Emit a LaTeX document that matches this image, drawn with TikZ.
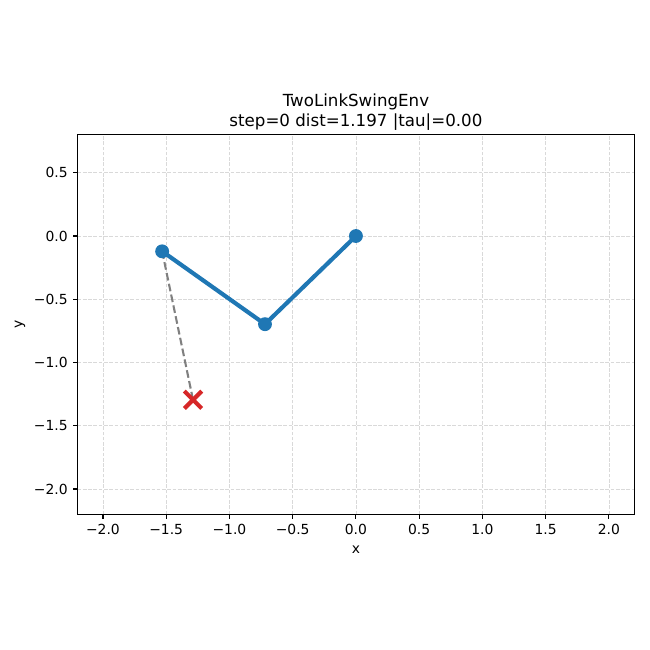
\documentclass[tikz,border=0pt]{standalone}
\usepackage{fontspec}
\setmainfont{DejaVu Sans}
\usetikzlibrary{positioning,backgrounds,shapes.misc}

\definecolor{linkblue}{HTML}{1F77B4}
\definecolor{targetred}{HTML}{D62728}

\begin{document}
\begin{tikzpicture}[
    x=91.08pt, y=91.08pt,
    gridline/.style={gray!30, line width=0.4pt, dash pattern=on 2.6pt off 1.2pt},
    frame/.style={line width=0.8pt},
    ticmark/.style={line width=0.8pt},
    ticklabel/.style={font=\fontsize{10}{12}\selectfont, inner sep=0pt},
    joint/.style={circle, fill=linkblue, minimum size=10pt, inner sep=0pt},
    goal/.style={cross out, draw=targetred, line width=3pt, minimum size=9.5pt, inner sep=0pt},
    link/.style={linkblue, line width=3pt},
    reach/.style={gray, line width=1.5pt, dash pattern=on 5.55pt off 2.4pt},
]

% Canvas
\useasboundingbox (-2.814,1.866) rectangle (2.324,-3.273);

% Arm and target
\node[goal] (target) at (-1.288,-1.295) {};
\node[joint] (base) at (0,0) {};
\node[joint] (elbow) at (-0.719,-0.697) {};
\node[joint] (tip) at (-1.532,-0.121) {};

\begin{scope}[on background layer]
  % Grid
  \foreach \gx in {-2.0,-1.5,...,2.0}
    \draw[gridline] (\gx,-2.2) -- (\gx,0.8);
  \foreach \gy in {-2.0,-1.5,...,0.5}
    \draw[gridline] (-2.2,\gy) -- (2.2,\gy);
  % Distance to target
  \draw[reach] (tip.center) -- (target.center);
  % Links
  \draw[link] (base.center) -- (elbow.center) -- (tip.center);
\end{scope}

% Axes frame
\draw[frame] (-2.2,-2.2) rectangle (2.2,0.8);

% Ticks
\foreach \gx/\lab in {-2.0/−2.0,-1.5/−1.5,-1.0/−1.0,-0.5/−0.5,0.0/0.0,0.5/0.5,1.0/1.0,1.5/1.5,2.0/2.0}{
  \draw[ticmark] (\gx,-2.2) -- ++(0,-3.5pt);
  \node[ticklabel, anchor=north] at ([yshift=-7pt]\gx,-2.2) {\lab};
}
\foreach \gy/\lab in {-2.0/−2.0,-1.5/−1.5,-1.0/−1.0,-0.5/−0.5,0.0/0.0,0.5/0.5}{
  \draw[ticmark] (-2.2,\gy) -- ++(-3.5pt,0);
  \node[ticklabel, anchor=east] at ([xshift=-7pt]-2.2,\gy) {\lab};
}

% Axis labels and title
\node[ticklabel] (xlabel) at (0,-2.482) {x};
\node[ticklabel, rotate=90] (ylabel) at (-2.656,-0.70) {y};
\node[font=\fontsize{12}{14.4}\selectfont, align=center, anchor=south, inner sep=0pt] (title)
  at ([yshift=3pt]0,0.8) {TwoLinkSwingEnv\\step=0 dist=1.197 |tau|=0.00};

\end{tikzpicture}
\end{document}
